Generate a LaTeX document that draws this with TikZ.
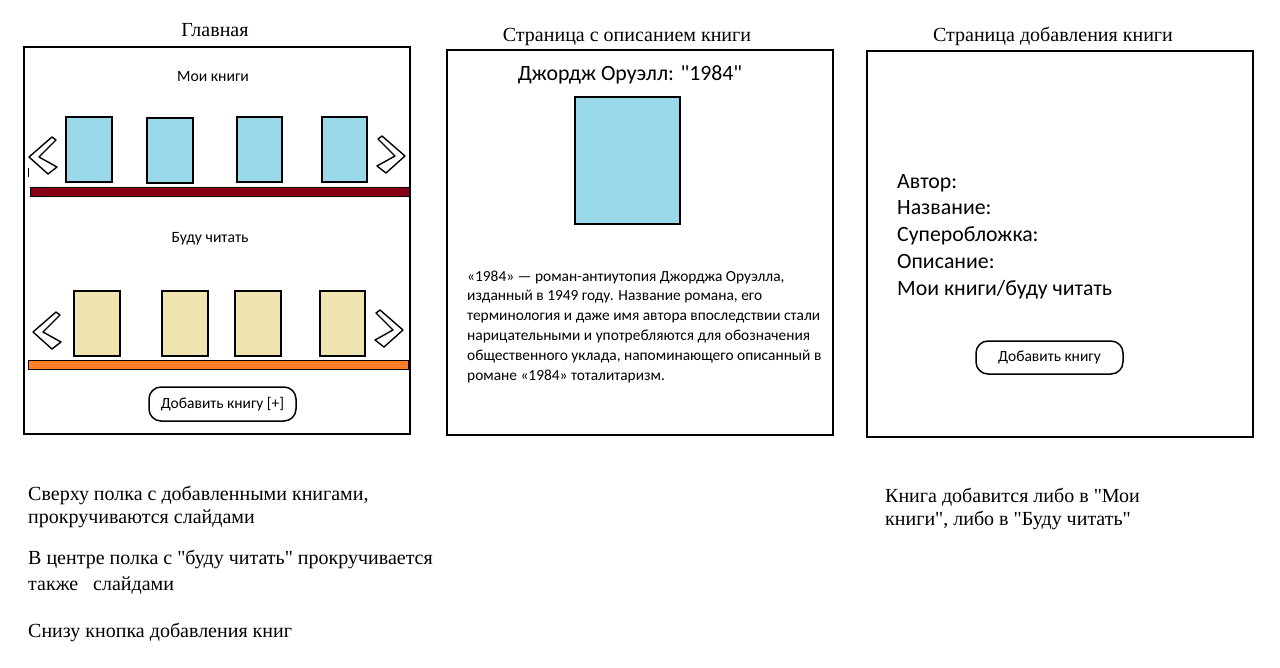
\documentclass[tikz,border=0pt]{standalone}
\usepackage{fontspec}
\setmainfont{Liberation Serif}[Ligatures=TeXOff]
\newfontfamily\calib{Carlito}
\usepackage{tikz}
\usetikzlibrary{positioning}

\definecolor{coverblue}{HTML}{99D9EA}
\definecolor{coverbeige}{HTML}{EFE4B0}
\definecolor{shelfred}{HTML}{880015}
\definecolor{shelforange}{HTML}{FF7F27}

\newcommand{\fs}[1]{\fontsize{#1}{1.2\dimexpr #1pt\relax}\selectfont}

\begin{document}
\begin{tikzpicture}[x=1pt,y=-1pt,
            frame/.style={draw, line width=2pt},
            book/.style={draw, line width=1.6pt},
            shelf/.style={draw, line width=1pt},
            btn/.style={draw, line width=1.5pt, rounded corners=12pt, inner sep=0pt, font=\calib\fs{15.5}},
            title/.style={anchor=base, font=\fs{20}},
            note/.style={anchor=base west, inner sep=0pt, align=left},
            chev/.pic={\draw[line width=1.4pt, line join=round] (0,21) -- (23,1) -- (27,4) -- (10,21) -- (28,31) -- (19,38) -- cycle;}]
        \useasboundingbox (0,0) rectangle (1280,667);

        % main page
        \draw[frame] (24,47) rectangle (410,434);
        \node[title] (tmain) at (215,36) {Главная};
        \node[anchor=base, font=\calib\fs{15.7}] (mybooks) at (213,81) {Мои книги};
        \draw[book, fill=coverblue] (66,117) rectangle (112,182);
        \draw[book, fill=coverblue] (147,118) rectangle (193,183);
        \draw[book, fill=coverblue] (237,117) rectangle (282,182);
        \draw[book, fill=coverblue] (322,117) rectangle (367,182);
        \draw[shelf, fill=shelfred] (30,187) rectangle (409,196);
        \pic at (29,136) {chev};
        \pic[xscale=-1] at (405,135) {chev};
        \draw[line width=0.8pt] (28,168) -- (28,177);

        \node[anchor=base, font=\calib\fs{15.7}] (later) at (210,242) {Буду читать};
        \draw[book, fill=coverbeige] (74,291) rectangle (120,356);
        \draw[book, fill=coverbeige] (162,291) rectangle (208,356);
        \draw[book, fill=coverbeige] (235,291) rectangle (281,356);
        \draw[book, fill=coverbeige] (320,291) rectangle (365,356);
        \draw[shelf, fill=shelforange] (28,360) rectangle (408,369);
        \pic at (33,311) {chev};
        \pic[xscale=-1] at (403,309) {chev};
        \node[btn, minimum width=147, minimum height=34] (addplus) at (222.5,404) {Добавить книгу [+]};

        % book page
        \draw[frame] (447,50) rectangle (833,435);
        \node[title] (tbook) at (627,41) {Страница с описанием книги};
        \node[anchor=base, font=\calib\fs{21.8}] (bname) at (630,80) {Джордж Оруэлл: "1984"};
        \draw[book, fill=coverblue] (575,97) rectangle (680,224);
        \node[note, font=\calib\fontsize{15.4}{19.8}\selectfont] (descr) at (467,380)
            {«1984» — роман-антиутопия Джорджа Оруэлла,\\
             изданный в 1949 году. Название романа, его\\
             терминология и даже имя автора впоследствии стали\\
             нарицательными и употребляются для обозначения\\
             общественного уклада, напоминающего описанный в\\
             романе «1984» тоталитаризм.};

        % add page
        \draw[frame] (867,51) rectangle (1253,437);
        \node[title] (tadd) at (1053,41) {Страница добавления книги};
        \node[note, font=\calib\fontsize{21.8}{26.7}\selectfont] (fields) at (897,295)
            {Автор:\\Название:\\Суперобложка:\\Описание:\\Мои книги/буду читать};
        \node[btn, minimum width=147, minimum height=33] (addbtn) at (1049.5,357.5) {Добавить книгу};

        % notes
        \node[note, font=\fontsize{20}{23}\selectfont] (n1) at (28,523)
            {Сверху полка с добавленными книгами,\\прокручиваются слайдами};
        \node[note, font=\fontsize{20}{26}\selectfont] (n2) at (28,590)
            {В центре полка с "буду читать" прокручивается\\также \ \ слайдами};
        \node[note, font=\fs{20}] (n3) at (28,637) {Снизу кнопка добавления книг};
        \node[note, font=\fontsize{20}{23}\selectfont] (n4) at (885,525)
            {Книга добавится либо в "Мои\\книги", либо в "Буду читать"};
    \end{tikzpicture}
\end{document}
